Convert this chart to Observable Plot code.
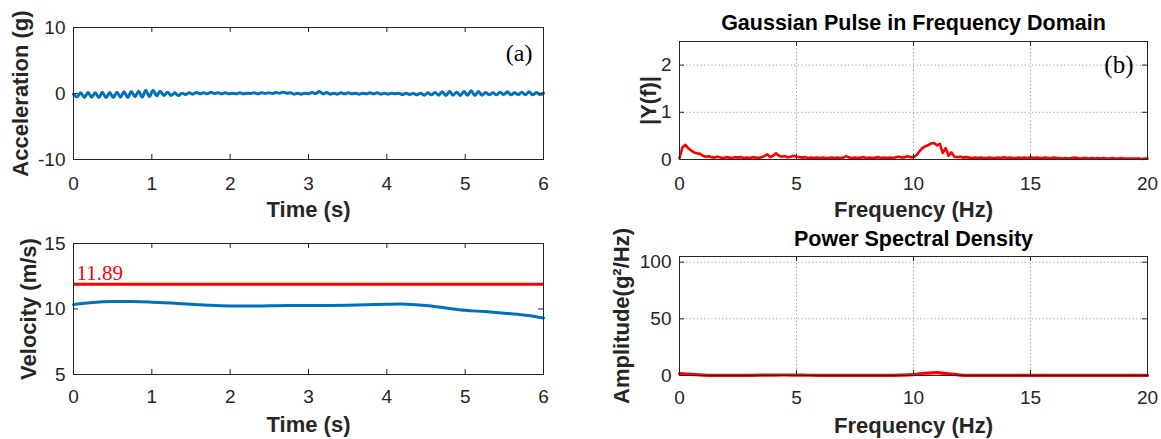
<!DOCTYPE html>
<html><head><meta charset="utf-8">
<script src="https://cdn.jsdelivr.net/npm/d3@7"></script>
<script src="https://cdn.jsdelivr.net/npm/@observablehq/plot@0.6"></script>
<style>
html,body{margin:0;padding:0;background:#fff;}
#fig{position:relative;width:1161px;height:439px;overflow:hidden;background:#fff;}
#fig > div, #fig > svg{position:absolute;}
svg{overflow:visible;}
</style></head><body><div id="fig"></div>
<script>
// ---------- data ----------
const timeTicks = [0, 1, 2, 3, 4, 5, 6];
const accelTicks = [-10, 0, 10];
const velTicks = [5, 10, 15];
const freqTicks = [0, 5, 10, 15, 20];
const fftTicks = [0, 1, 2];
const psdTicks = [0, 50, 100];

// acceleration samples (g), one every accelDt seconds
const accelDt = 6 / 130;
const accelValues = [
  -0.1,-0.5,0.1,-0.6,0.15,-0.55,0.1,-0.6,0.2,-0.65,
  0.15,-0.6,0.2,-0.55,0.25,-0.6,0.3,-0.5,0.35,-0.55,
  0.45,-0.45,0.5,-0.35,0.35,-0.3,0.2,-0.3,0.1,-0.3,
  0.05,-0.15,0.1,-0.1,0.15,-0.05,0.1,-0.05,0.2,0.0,
  0.1,-0.05,0.1,-0.05,0.05,-0.05,0.1,-0.05,0.05,0.0,
  0.1,-0.05,0.1,0.0,0.1,0.0,0.15,0.05,0.2,0.05,
  0.1,-0.1,0.05,-0.1,0.05,-0.05,0.15,0.0,0.3,-0.05,
  0.15,-0.1,0.05,-0.1,0.1,-0.05,0.1,-0.05,0.05,-0.1,
  0.05,-0.05,0.1,-0.05,0.1,-0.1,0.05,-0.1,0.05,-0.05,
  0.05,-0.15,0.05,-0.15,0.0,-0.2,0.05,-0.25,0.1,-0.2,
  0.15,-0.25,0.25,-0.3,0.3,-0.25,0.2,-0.3,0.3,-0.25,
  0.4,-0.3,0.3,-0.25,0.15,-0.2,0.1,-0.2,0.2,-0.15,
  0.25,-0.2,0.1,-0.15,0.2,-0.2,0.25,-0.2,0.15,-0.15,
  0.05
];

// velocity (m/s)
const velTime = [0,0.25,0.5,0.75,1,1.25,1.5,1.75,2,2.25,2.5,2.75,3,3.25,3.5,3.75,4,4.25,4.5,4.75,5,5.25,5.5,5.75,6];
const velValues = [10.35,10.5,10.57,10.57,10.52,10.45,10.36,10.28,10.23,10.22,10.24,10.26,10.26,10.26,10.28,10.32,10.36,10.37,10.27,10.08,9.9,9.8,9.68,9.54,9.32];
const velocityLimit = 11.89;

// |Y(f)| spectrum, one value every fftDf Hz
const fftDf = 0.125;
const fftValues = [
  0.03,0.26,0.31,0.24,0.19,0.15,0.13,0.12,0.08,0.06,
  0.07,0.05,0.04,0.06,0.04,0.03,0.05,0.04,0.03,0.05,
  0.04,0.05,0.03,0.04,0.03,0.05,0.04,0.03,0.05,0.07,
  0.11,0.05,0.08,0.13,0.08,0.06,0.07,0.05,0.06,0.08,
  0.06,0.05,0.04,0.05,0.03,0.04,0.03,0.04,0.03,0.04,
  0.03,0.03,0.04,0.03,0.04,0.03,0.04,0.07,0.04,0.03,
  0.04,0.03,0.04,0.05,0.03,0.04,0.03,0.04,0.05,0.03,
  0.04,0.03,0.04,0.03,0.05,0.06,0.04,0.05,0.07,0.05,
  0.05,0.09,0.17,0.24,0.28,0.30,0.34,0.35,0.30,0.33,
  0.14,0.24,0.08,0.15,0.06,0.05,0.06,0.04,0.05,0.04,
  0.03,0.04,0.03,0.04,0.03,0.03,0.04,0.03,
  0.03,0.04,0.03,0.05,0.03,0.04,0.03,0.03,
  0.04,0.03,0.04,0.03,0.05,0.03,0.04,0.03,
  0.03,0.04,0.03,0.03,0.04,0.03,0.03,0.02,
  0.03,0.02,0.03,0.04,0.03,0.02,0.03,0.03,
  0.02,0.03,0.02,0.03,0.02,0.03,0.02,0.02,
  0.03,0.02,0.02,0.03,0.02,0.02,0.02,0.02,
  0.02,0.02,0.01,0.02,0.02
];

// power spectral density (g^2/Hz), one value every psdDf Hz
const psdDf = 0.5;
const psdValues = [1.6,1.0,0.4,0.15,0.1,0.1,0.15,0.25,0.4,0.45,0.35,0.2,0.1,0.08,0.1,0.08,0.07,0.08,0.1,0.25,0.8,2.0,2.6,1.4,0.4,0.12,0.08,0.06,0.06,0.05,0.06,0.05,0.05,0.04,0.05,0.04,0.04,0.04,0.03,0.03,0.03];

// ---------- tables ----------
const accelData = accelValues.map((v, i) => ({t: i * accelDt, v}));
const velData = velTime.map((t, i) => ({t, v: velValues[i]}));
const fftData = fftValues.map((v, i) => ({f: i * fftDf, v}));
const psdData = psdValues.map((v, i) => ({f: i * psdDf, v}));

// ---------- style ----------
const SANS = "'Liberation Sans', Arial, Helvetica, sans-serif";
const SERIF = "'Liberation Serif', 'Times New Roman', serif";
const INK = "#262626";
const BLUE = "#0072BD";
const RED = "#FF0000";
const GRID = "#9a9a9a";

function panel(cfg) {
  const {left, top, width, height, mL, mR, mT, mB, xDomain, yDomain, xTicks, yTicks,
         xLabel, yLabel, yLabelDx, xTickPad, grid, marks, title, titleDy} = cfg;
  const fw = width - mL - mR, fh = height - mT - mB, L = 5;
  const m = [];
  if (grid) {
    m.push(Plot.gridX(xTicks, {stroke: GRID, strokeOpacity: 1, strokeDasharray: "1.2,2.4"}));
    m.push(Plot.gridY(yTicks, {stroke: GRID, strokeOpacity: 1, strokeDasharray: "1.2,2.4"}));
  }
  m.push(...marks);
  m.push(Plot.frame({stroke: INK, strokeWidth: 1}));
  m.push(Plot.tickX(xTicks, {x: d => d, insetTop: fh - L, stroke: INK}));
  m.push(Plot.tickX(xTicks, {x: d => d, insetBottom: fh - L, stroke: INK}));
  m.push(Plot.tickY(yTicks, {y: d => d, insetRight: fw - L, stroke: INK}));
  m.push(Plot.tickY(yTicks, {y: d => d, insetLeft: fw - L, stroke: INK}));
  m.push(Plot.axisX({ticks: xTicks, tickSize: 0, tickPadding: xTickPad, label: null, tickFormat: d => String(d), fill: INK}));
  m.push(Plot.axisY({ticks: yTicks, tickSize: 0, tickPadding: 8, label: null, tickFormat: d => String(d), fill: INK}));
  m.push(Plot.text([xLabel], {text: d => d, frameAnchor: "bottom", dy: 50, lineAnchor: "middle",
    textAnchor: "middle", fontWeight: "bold", fontSize: 22, fill: INK}));
  m.push(Plot.text([yLabel], {text: d => d, frameAnchor: "left", dx: yLabelDx, rotate: -90, lineAnchor: "middle",
    textAnchor: "middle", fontWeight: "bold", fontSize: 22, fill: INK}));
  if (title) {
    m.push(Plot.text([title], {text: d => d, frameAnchor: "top", dy: titleDy, lineAnchor: "middle",
      textAnchor: "middle", fontWeight: "bold", fontSize: 21.5, fill: "#000"}));
  }
  const chart = Plot.plot({
    width, height,
    marginLeft: mL, marginRight: mR, marginTop: mT, marginBottom: mB,
    x: {domain: xDomain},
    y: {domain: yDomain},
    style: {fontFamily: SANS, fontSize: "19px", color: INK, background: "transparent", overflow: "visible"},
    marks: m
  });
  chart.style.position = "absolute";
  chart.style.left = left + "px";
  chart.style.top = top + "px";
  document.getElementById("fig").appendChild(chart);
}

// (a) acceleration
panel({
  left: 0, top: 0, width: 580, height: 220, mL: 73, mR: 37, mT: 27, mB: 61,
  xDomain: [0, 6], yDomain: [-10, 10], xTicks: timeTicks, yTicks: accelTicks,
  xLabel: "Time (s)", yLabel: "Acceleration (g)", yLabelDx: -53, xTickPad: 16.5,
  marks: [
    Plot.line(accelData, {x: "t", y: "v", stroke: BLUE, strokeWidth: 3, curve: "catmull-rom"}),
    Plot.text(["(a)"], {text: d => d, frameAnchor: "top-right", dx: -11, dy: 26, textAnchor: "end",
      lineAnchor: "middle", fontFamily: SERIF, fontSize: 24, fill: "#000"})
  ]
});

// velocity
panel({
  left: 0, top: 220, width: 580, height: 219, mL: 73, mR: 37, mT: 23, mB: 65,
  xDomain: [0, 6], yDomain: [5, 15], xTicks: timeTicks, yTicks: velTicks,
  xLabel: "Time (s)", yLabel: "Velocity (m/s)", yLabelDx: -45, xTickPad: 15,
  marks: [
    Plot.ruleY([velocityLimit], {y: d => d, stroke: RED, strokeWidth: 3}),
    Plot.line(velData, {x: "t", y: "v", stroke: BLUE, strokeWidth: 3, curve: "catmull-rom"}),
    Plot.text([velocityLimit], {y: d => d, text: d => d.toFixed(2), frameAnchor: "left", dx: 3, dy: -4,
      textAnchor: "start", lineAnchor: "bottom", fontFamily: SERIF, fontSize: 21, fill: RED})
  ]
});

// (b) |Y(f)|
panel({
  left: 580, top: 0, width: 581, height: 220, mL: 99, mR: 14, mT: 41, mB: 61,
  xDomain: [0, 20], yDomain: [0, 2.5], xTicks: freqTicks, yTicks: fftTicks,
  xLabel: "Frequency (Hz)", yLabel: "|Y(f)|", yLabelDx: -31, xTickPad: 16.5,
  grid: true, title: "Gaussian Pulse in Frequency Domain", titleDy: -18,
  marks: [
    Plot.line(fftData, {x: "f", y: "v", stroke: RED, strokeWidth: 2.6}),
    Plot.text(["(b)"], {text: d => d, frameAnchor: "top-right", dx: -14, dy: 23, textAnchor: "end",
      lineAnchor: "middle", fontFamily: SERIF, fontSize: 25, fill: "#000"})
  ]
});

// PSD
panel({
  left: 580, top: 220, width: 581, height: 219, mL: 99, mR: 14, mT: 36, mB: 64,
  xDomain: [0, 20], yDomain: [0, 105], xTicks: freqTicks, yTicks: psdTicks,
  xLabel: "Frequency (Hz)", yLabel: "Amplitude(g²/Hz)", yLabelDx: -58, xTickPad: 14.5,
  grid: true, title: "Power Spectral Density", titleDy: -17,
  marks: [
    Plot.line(psdData, {x: "f", y: "v", stroke: RED, strokeWidth: 3.2, curve: "catmull-rom"})
  ]
});
</script></body></html>
